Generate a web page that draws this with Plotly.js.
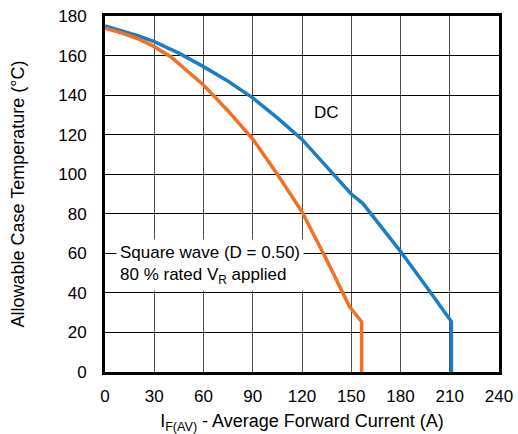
<!DOCTYPE html>
<html>
<head>
<meta charset="utf-8">
<script src="https://cdn.plot.ly/plotly-3.0.1.min.js"></script>
<style>html,body{margin:0;padding:0;background:#fff;}#chart{width:518px;height:434px;}</style>
</head>
<body>
<div id="chart"></div>
<script>
// DC curve
const dcCurrent = [0, 10, 20, 30, 45, 60, 75, 90, 105, 120, 139, 150, 157, 180, 195, 211, 211];
const dcTemp    = [175, 172.6, 170, 167, 161.2, 154.4, 147, 138.6, 128.5, 117.6, 100, 90, 85.3, 61, 44, 25.5, 0];
// Square wave (D = 0.50) curve
const sqCurrent = [0, 10, 20, 30, 40, 50, 60, 75, 90, 105, 120, 135, 149, 156.3, 156.3];
const sqTemp    = [173.8, 171.5, 168.5, 164.5, 159.4, 152.5, 145.1, 132, 117.8, 100, 81, 56.7, 33, 25.4, 0];
const xTicks = [0, 30, 60, 90, 120, 150, 180, 210, 240];
const yTicks = [0, 20, 40, 60, 80, 100, 120, 140, 160, 180];

const font = {family: 'Liberation Sans, Arial, sans-serif', color: '#000'};
const f = s => Object.assign({size: s}, font);

const traces = [
  {x: dcCurrent, y: dcTemp, mode: 'lines', line: {color: '#1b7dc3', width: 3.5}, hoverinfo: 'skip'},
  {x: sqCurrent, y: sqTemp, mode: 'lines', line: {color: '#f37021', width: 3.5}, hoverinfo: 'skip'}
];

const layout = {
  width: 518, height: 434,
  margin: {l: 105, r: 19, t: 16, b: 62},
  paper_bgcolor: '#fff', plot_bgcolor: '#fff',
  showlegend: false,
  font: f(17),
  xaxis: {
    range: [0, 240], tickvals: xTicks, ticktext: xTicks.map(String),
    showgrid: true, gridcolor: '#4d4d4d', gridwidth: 1,
    showline: true, linecolor: '#000', linewidth: 3, mirror: true,
    zeroline: false, ticks: '', ticklabelstandoff: 7,
    tickfont: f(17),
    title: {text: 'I<sub>F(AV)</sub> - Average Forward Current (A)', font: f(18), standoff: 12}
  },
  yaxis: {
    range: [0, 180], tickvals: yTicks, ticktext: yTicks.map(String),
    showgrid: true, gridcolor: '#000', gridwidth: 1,
    showline: true, linecolor: '#000', linewidth: 3, mirror: true,
    zeroline: false, ticks: '', ticklabelstandoff: 12,
    tickfont: f(17),
    title: {text: 'Allowable Case Temperature (°C)', font: f(18), standoff: 29}
  },
  annotations: [
    {x: 135, y: 131, xref: 'x', yref: 'y', text: 'DC', showarrow: false, font: f(17)},
    {x: 64, y: 54, xref: 'x', yref: 'y', xanchor: 'center', yanchor: 'middle', align: 'left',
     text: 'Square wave (D = 0.50)<br>80 % rated V<sub>R</sub> applied', showarrow: false,
     bgcolor: '#fff', borderpad: 3, font: f(17)}
  ]
};

Plotly.newPlot('chart', traces, layout, {staticPlot: true, displayModeBar: false});
</script>
</body>
</html>
